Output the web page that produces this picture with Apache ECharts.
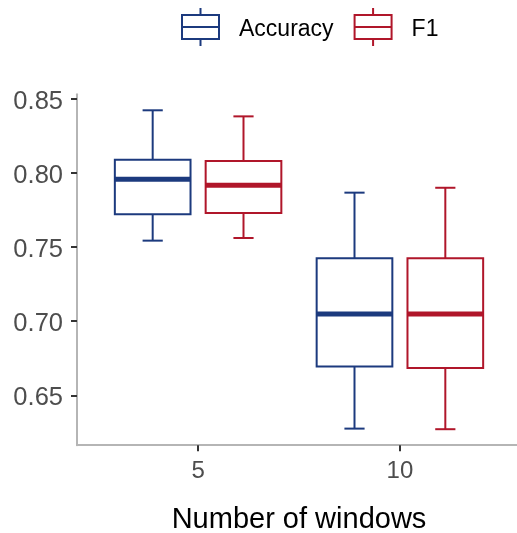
<!DOCTYPE html>
<html>
<head>
<meta charset="utf-8">
<script src="https://cdn.jsdelivr.net/npm/echarts@6/dist/echarts.min.js"></script>
<style>html,body{margin:0;padding:0;background:#fff;}#c{width:517px;height:533px;}</style>
</head>
<body>
<div id="c"></div>
<script>
// Data: [min, q1, median, q3, max] per category
const categories = ['5', '10'];
const seriesNames = ['Accuracy', 'F1'];
const accuracyStats = [
  [0.7544, 0.7722, 0.7958, 0.8090, 0.8424],
  [0.6275, 0.6694, 0.7049, 0.7425, 0.7868]
];
const f1Stats = [
  [0.7562, 0.7731, 0.7918, 0.8082, 0.8383],
  [0.6271, 0.6685, 0.7049, 0.7425, 0.7901]
];
const yTicks = [0.65, 0.70, 0.75, 0.80, 0.85];

const colors = ['#1c3a7e', '#b0162a'];
const FONT = "'Liberation Sans', Arial, Helvetica, sans-serif";
const BOX_W = 0.375, CAP_W = 0.1, DODGE = 0.225;

function makeData(stats) {
  return stats.map((s, i) => [i + 1].concat(s));
}

function makeRender(offset, color) {
  return function (params, api) {
    const x = api.value(0) + offset;
    const pMin = api.coord([x, api.value(1)]);
    const pQ1 = api.coord([x, api.value(2)]);
    const pMed = api.coord([x, api.value(3)]);
    const pQ3 = api.coord([x, api.value(4)]);
    const pMax = api.coord([x, api.value(5)]);
    const half = api.size([BOX_W, 0])[0] / 2;
    const capHalf = api.size([CAP_W, 0])[0] / 2;
    const cx = pMed[0];
    const ls = { stroke: color, lineWidth: 2, fill: null };
    return {
      type: 'group',
      children: [
        { type: 'line', shape: { x1: cx, y1: pQ3[1], x2: cx, y2: pMax[1] }, style: ls },
        { type: 'line', shape: { x1: cx, y1: pQ1[1], x2: cx, y2: pMin[1] }, style: ls },
        { type: 'line', shape: { x1: cx - capHalf, y1: pMax[1], x2: cx + capHalf, y2: pMax[1] }, style: ls },
        { type: 'line', shape: { x1: cx - capHalf, y1: pMin[1], x2: cx + capHalf, y2: pMin[1] }, style: ls },
        { type: 'rect', shape: { x: cx - half, y: pQ3[1], width: half * 2, height: pQ1[1] - pQ3[1] },
          style: { stroke: color, lineWidth: 2, fill: '#fff' } },
        { type: 'line', shape: { x1: cx - half, y1: pMed[1], x2: cx + half, y2: pMed[1] },
          style: { stroke: color, lineWidth: 5 } }
      ]
    };
  };
}

const iconPath = 'path://M0,7H37V31H0Z M0,19H37 M18.5,0V7 M18.5,31V38';

const chart = echarts.init(document.getElementById('c'), null, { renderer: 'canvas' });
chart.setOption({
  backgroundColor: '#fff',
  animation: false,
  textStyle: { fontFamily: FONT },
  legend: {
    top: 2,
    left: 176,
    itemWidth: 37,
    itemHeight: 38,
    itemGap: 20,
    formatter: '{t|{name}}',
    textStyle: {
      fontSize: 23, color: '#000', fontFamily: FONT, padding: [0, 0, 0, 15],
      rich: { t: { fontSize: 23, color: '#000', fontFamily: FONT, padding: [6, 0, 0, 0] } }
    },
    data: seriesNames.map((n, i) => ({
      name: n,
      icon: iconPath,
      itemStyle: { color: 'rgba(255,255,255,0)', borderColor: colors[i], borderWidth: 2 }
    }))
  },
  grid: { left: 77, top: 94.3, width: 444, height: 350.9, containLabel: false, outerBoundsMode: 'none' },
  xAxis: {
    type: 'value',
    min: 0.4,
    max: 2.6,
    splitLine: { show: false },
    axisLine: { show: true, lineStyle: { color: '#b5b5b5', width: 2 } },
    axisTick: { show: true, customValues: [1, 2], length: 6, lineStyle: { color: '#333', width: 2 } },
    axisLabel: {
      customValues: [1, 2],
      formatter: v => categories[Math.round(v) - 1],
      fontSize: 24, color: '#4d4d4d', fontFamily: FONT, margin: 14
    },
    name: 'Number of windows',
    nameLocation: 'middle',
    nameGap: 60,
    nameTextStyle: { fontSize: 29, color: '#000', fontFamily: FONT }
  },
  yAxis: {
    type: 'value',
    min: 0.6163,
    max: 0.8532,
    splitLine: { show: false },
    axisLine: { show: true, lineStyle: { color: '#b5b5b5', width: 2 } },
    axisTick: { show: true, customValues: yTicks, length: 6, lineStyle: { color: '#333', width: 2 } },
    axisLabel: {
      customValues: yTicks,
      formatter: v => '{t|' + v.toFixed(2) + '}',
      fontSize: 25.5, color: '#4d4d4d', fontFamily: FONT, margin: 14,
      rich: { t: { fontSize: 25.5, color: '#4d4d4d', fontFamily: FONT, padding: [5, 0, 0, 0] } }
    }
  },
  series: [
    {
      name: seriesNames[0], type: 'custom',
      itemStyle: { color: colors[0] },
      renderItem: makeRender(-DODGE, colors[0]),
      encode: { x: 0, y: [1, 2, 3, 4, 5] },
      data: makeData(accuracyStats)
    },
    {
      name: seriesNames[1], type: 'custom',
      itemStyle: { color: colors[1] },
      renderItem: makeRender(DODGE, colors[1]),
      encode: { x: 0, y: [1, 2, 3, 4, 5] },
      data: makeData(f1Stats)
    }
  ]
});
</script>
</body>
</html>
